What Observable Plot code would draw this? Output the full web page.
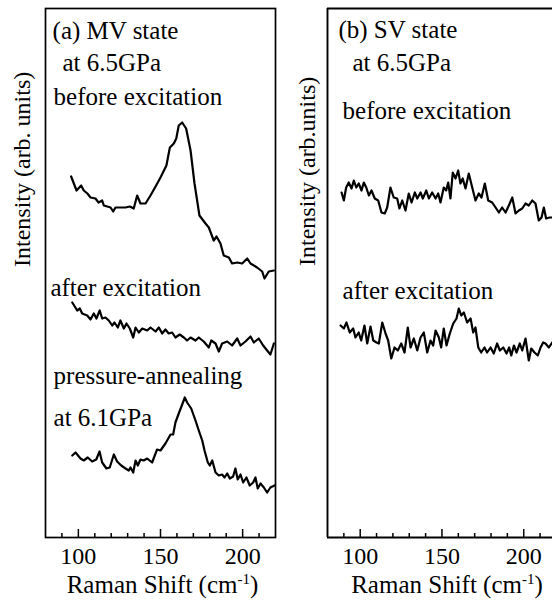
<!DOCTYPE html>
<html><head><meta charset="utf-8">
<script src="https://cdn.jsdelivr.net/npm/d3@7"></script>
<script src="https://cdn.jsdelivr.net/npm/@observablehq/plot@0.6"></script>
<style>
body{margin:0;background:#fff;overflow:hidden}
#wrap{position:relative;width:552px;height:612px;background:#fff}
#a{position:absolute;left:0;top:0}
#b{position:absolute;left:290px;top:0}
svg text{font-family:"Liberation Serif","Times New Roman",serif !important}
</style></head><body><div id="wrap"><div id="a"></div><div id="b"></div></div>
<script>
// ---- data (Raman shift in cm^-1, intensity in arbitrary units) ----
const mvBefore = [[95.6,361],[98.9,347],[101.7,352],[103.3,347],[105.5,344],[107.4,340],[110.4,339],[112.3,335],[114.5,337],[115.5,332],[117.6,331],[119.6,330],[121.2,326],[122.6,330],[125.6,330],[128.7,330],[131.3,331],[133.7,329],[135.8,342],[137.8,334],[140.9,334],[143.9,342],[147,351],[150,360],[153.6,372],[155.7,390],[158.1,394],[159.6,399],[161.1,412],[163.2,415],[165.6,409],[168.3,387],[170.7,354],[173.7,322],[177.4,314],[179.4,310],[182.4,297],[184.1,301],[186.5,294],[188.5,282],[191.6,280],[193.6,274],[196.7,275],[199.7,274],[202.8,279],[204.8,274],[208.8,270],[211.9,266],[213.3,259],[215.9,266],[219,267]];
const mvAfter = [[96.3,235],[99.3,227],[100.9,229],[102.3,224],[105.4,222],[107.4,218],[109.4,224],[111,219],[113,227],[114.5,219],[116.5,220],[118.5,217],[120.6,212],[122,215],[124,210],[125.6,217],[127.7,209],[129.3,214],[131.3,209],[133.4,200],[134.8,210],[136.8,205],[138.9,209],[141.9,207],[143.9,210],[147,206],[149,210],[151,204],[153,208],[155,204],[157.1,205],[159.1,200],[161.7,203],[164.2,200],[166.2,197],[168.3,200],[171.3,197],[173.3,200],[176.3,196],[179.4,190],[180.9,197],[183.5,194],[185.5,186],[187.5,194],[190.6,196],[193.6,192],[196.7,199],[198.7,192],[201.7,196],[204.8,201],[206.8,195],[209.8,199],[212.5,192],[214.9,187],[216.9,183],[219,194]];
const mvAnneal = [[96.3,82],[98.3,85],[101.3,79],[103.3,77],[105.7,80],[108.4,76],[110.9,78],[112.9,86],[114.5,75],[117.1,69],[119.1,70],[121.6,83],[123.6,76],[126.1,72],[128.7,69],[130.7,67],[131.7,70],[133.4,65],[134.8,77],[136.2,72],[137.8,78],[139.8,77],[141.9,79],[144.9,75],[147.9,88],[150,87],[153,94],[156.1,103],[157.7,103],[159.1,115],[161.1,124],[163.2,133],[164.8,140],[166.2,135],[168.7,129],[171.3,117],[173.3,107],[175.4,97],[176.8,87],[178.8,75],[180,72],[181.5,77],[183.5,65],[185.5,62],[187.5,63],[189,60],[190.6,64],[192.2,59],[194.2,61],[195.6,69],[197,58],[198.7,63],[200.3,55],[202.3,60],[204.3,52],[206.4,55],[207.8,60],[209.2,49],[210.9,54],[212.9,50],[214.9,45],[216.9,50],[219.4,52]];
const svBefore = [[88.6,345],[90,337],[91.4,350],[93,355],[94.7,349],[96.1,357],[97.6,350],[99.1,354],[100.8,347],[102.2,355],[103.7,350],[105.3,342],[106.9,347],[108.9,339],[111,337],[113,325],[115,324],[116.5,330],[118.5,350],[120.5,340],[122.6,339],[124,329],[125.7,337],[127.7,327],[129.7,344],[131.4,335],[133.4,345],[134.9,339],[136.9,345],[138.3,339],[140.4,347],[142,339],[144,345],[146.1,339],[147.7,344],[149.1,335],[151.1,350],[152.6,347],[153.8,355],[155.2,339],[156.6,365],[158.3,359],[159.9,367],[161.3,354],[162.7,359],[164.4,349],[166.4,364],[168.5,350],[170.5,337],[172.5,344],[174.2,340],[176.2,354],[178.3,337],[180.7,335],[182.8,330],[184.8,325],[186.8,330],[188.9,325],[190.9,332],[193,340],[195,324],[197,327],[199.1,329],[201.1,334],[203.1,332],[205.2,337],[207.2,334],[209.2,317],[210.9,320],[212.3,330],[213.7,319],[215.8,320],[217.4,320]];
const svAfter = [[88,212],[90,209],[91.6,215],[93.6,205],[95.7,209],[97.1,200],[99.1,205],[100.6,197],[102.6,212],[104.3,194],[106.3,211],[108,197],[110,195],[111.4,194],[113.5,215],[115.5,204],[117.1,197],[119,179],[121,190],[123,187],[125.1,194],[127.1,185],[129.1,210],[130.8,190],[132.8,199],[134.9,187],[136.9,200],[138.9,205],[141,185],[143,197],[144.6,192],[146.1,207],[148.1,200],[149.5,190],[151.1,209],[152.8,192],[154.8,204],[156.9,214],[158.9,219],[160.3,229],[161.8,222],[163.4,225],[165.4,215],[167.5,219],[169.1,205],[170.5,210],[172.2,190],[174,185],[176,190],[177.6,185],[179.7,190],[181.7,184],[183.7,194],[185.4,187],[187.5,190],[189.5,184],[191.1,190],[192.4,182],[194,192],[195.6,185],[197.6,194],[199.1,187],[201.1,199],[203.1,177],[204.6,189],[206.6,185],[208.6,182],[210.3,190],[211.9,195],[213.3,194],[215.4,190],[217.4,195]];

const majorTicks = [100, 150, 200];
const minorTicks = [90, 110, 120, 130, 140, 160, 170, 180, 190, 210];

const labelsA = [
  {x: 84.3, y: 499, text: "(a) MV state"},
  {x: 90.3, y: 467, text: "at 6.5GPa"},
  {x: 84.9, y: 433, text: "before excitation"},
  {x: 83.0, y: 242, text: "after excitation"},
  {x: 84.9, y: 154, text: "pressure-annealing"},
  {x: 84.9, y: 112, text: "at 6.1GPa"}
];
const labelsB = [
  {x: 86.7, y: 500, text: "(b) SV state"},
  {x: 95.3, y: 467, text: "at 6.5GPa"},
  {x: 89.2, y: 419, text: "before excitation"},
  {x: 89.2, y: 239, text: "after excitation"}
];
const xTitle = "Raman Shift (cm-1)";
const yTitleA = "Intensity (arb. units)";
const yTitleB = "Intensity (arb.units)";

const FONT = '"Liberation Serif", "Times New Roman", serif';
const FS = 25;

function panel({width, marginLeft, marginRight, xDomain, series, labels, yTitle, yDx, yDy, xDx, full}) {
  const frameMarks = full
    ? [Plot.frame({strokeWidth: 1.7})]
    : [Plot.ruleX([xDomain[0]], {strokeWidth: 1.9}), Plot.ruleY([0, 529], {strokeWidth: 1.9})];
  return Plot.plot({
    width, height: 612, marginLeft, marginRight, marginTop: 8, marginBottom: 75,
    x: {domain: xDomain},
    y: {domain: [0, 529], axis: null},
    style: {fontFamily: FONT, fontSize: FS + "px", color: "black", background: "white", overflow: "visible"},
    marks: [
      ...frameMarks,
      Plot.axisX(minorTicks, {tickSize: -4, tickFormat: () => "", label: null, strokeWidth: 1.5}),
      Plot.axisX(majorTicks, {tickSize: -8, tickPadding: 17, label: null, strokeWidth: 1.5, fontSize: 24, fontFamily: FONT}),
      ...series.map(s => Plot.line(s, {x: d => d[0], y: d => d[1], stroke: "black", strokeWidth: 2.2, strokeLinejoin: "round"})),
      Plot.text(labels, {x: "x", y: "y", text: "text", textAnchor: "start", lineAnchor: "bottom", fontSize: FS, fontFamily: FONT, fill: "black"}),
      Plot.text([yTitle], {frameAnchor: "left", rotate: -90, dx: yDx, dy: yDy, fontSize: 24, fontFamily: FONT, fill: "black"}),
      Plot.text([xTitle], {frameAnchor: "bottom", dy: 55, dx: xDx, fontSize: FS, fontFamily: FONT, fill: "black"})
    ]
  });
}

function superscript(svg) {
  d3.select(svg).selectAll("text").attr("font-family", FONT);
  d3.select(svg).selectAll("text").filter(function() { return this.textContent === xTitle; }).each(function() {
    const t = d3.select(this);
    t.text(null);
    t.append("tspan").text("Raman Shift (cm");
    t.append("tspan").attr("dy", -9).attr("font-size", "15px").text("-1");
    t.append("tspan").attr("dy", 9).text(")");
  });
}

const A = panel({width: 290, marginLeft: 45, marginRight: 15, xDomain: [80, 220],
  series: [mvBefore, mvAfter, mvAnneal], labels: labelsA, yTitle: yTitleA, yDx: -23, yDy: -6, xDx: 2, full: true});
const B = panel({width: 262, marginLeft: 37, marginRight: 0, xDomain: [80, 217.6],
  series: [svBefore, svAfter], labels: labelsB, yTitle: yTitleB, yDx: -20, yDy: -7, xDx: 7, full: false});
superscript(A); superscript(B);
document.getElementById("a").append(A);
document.getElementById("b").append(B);
</script></body></html>
